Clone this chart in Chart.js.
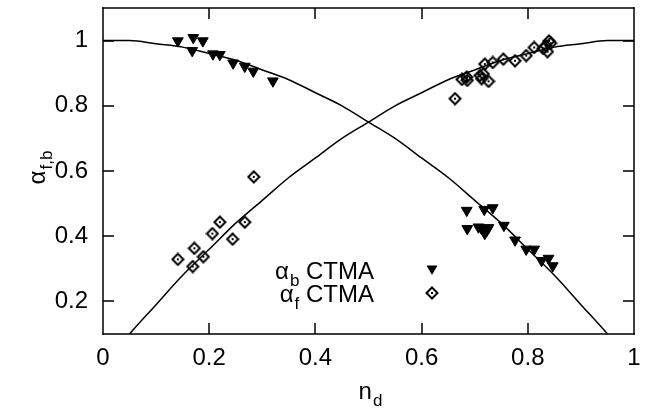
<!DOCTYPE html>
<html>
<head>
<meta charset="utf-8">
<script src="https://cdn.jsdelivr.net/npm/chart.js@4/dist/chart.umd.min.js"></script>
<style>
  html, body { margin: 0; padding: 0; background: #fff; }
  #wrap { width: 647px; height: 413px; }
</style>
</head>
<body>
<div id="wrap"><canvas id="chart" width="647" height="413"></canvas></div>
<script>
// fitted curves, every 0.05
const curveX = [0, 0.05, 0.1, 0.15, 0.2, 0.25, 0.3, 0.35, 0.4, 0.45, 0.5, 0.55, 0.6, 0.65, 0.7, 0.75, 0.8, 0.85, 0.9, 0.95, 1];
const curveB = [1.00, 1.00, 0.99, 0.98, 0.96, 0.94, 0.91, 0.88, 0.84, 0.80, 0.75, 0.70, 0.64, 0.58, 0.51, 0.44, 0.36, 0.28, 0.19, 0.10, 0.00];
const curveF = [0.00, 0.10, 0.19, 0.28, 0.36, 0.44, 0.51, 0.58, 0.64, 0.70, 0.75, 0.80, 0.84, 0.88, 0.91, 0.94, 0.96, 0.98, 0.99, 1.00, 1.00];

// alpha_b CTMA (filled triangles)
const bX = [0.141, 0.170, 0.188, 0.168, 0.207, 0.220, 0.245, 0.267, 0.283, 0.320,
            0.685, 0.718, 0.734, 0.686, 0.707, 0.713, 0.723, 0.719, 0.726, 0.755,
            0.776, 0.797, 0.812, 0.826, 0.839, 0.847];
const bY = [0.999, 1.009, 0.999, 0.969, 0.959, 0.957, 0.931, 0.921, 0.906, 0.876,
            0.479, 0.482, 0.487, 0.423, 0.428, 0.423, 0.418, 0.408, 0.426, 0.433,
            0.388, 0.360, 0.360, 0.325, 0.332, 0.309];

// alpha_f CTMA (open diamonds)
const fX = [0.284, 0.220, 0.206, 0.267, 0.244, 0.172, 0.189, 0.141, 0.169,
            0.663, 0.676, 0.685, 0.686, 0.710, 0.713, 0.716, 0.726, 0.719, 0.734,
            0.754, 0.776, 0.797, 0.812, 0.829, 0.837, 0.840, 0.843, 0.834];
const fY = [0.582, 0.443, 0.408, 0.443, 0.391, 0.363, 0.337, 0.329, 0.307,
            0.822, 0.881, 0.888, 0.878, 0.893, 0.883, 0.898, 0.875, 0.928, 0.933,
            0.943, 0.938, 0.954, 0.979, 0.976, 0.966, 0.999, 0.992, 0.984];

const xTicks = [0, 0.2, 0.4, 0.6, 0.8, 1];
const yTicks = [0.2, 0.4, 0.6, 0.8, 1];

const FONT = '"Liberation Sans", Arial, sans-serif';
const FS = 24;

// open diamond with a centre dot
const diamond = document.createElement('canvas');
diamond.width = 14; diamond.height = 14;
(function () {
    const g = diamond.getContext('2d');
    g.strokeStyle = '#000';
    g.lineWidth = 2;
    g.beginPath();
    g.moveTo(7, 1.5); g.lineTo(12.5, 7); g.lineTo(7, 12.5); g.lineTo(1.5, 7); g.closePath();
    g.stroke();
    g.fillStyle = '#000';
    g.fillRect(6, 6, 2, 2);
})();

const pts = (xs, ys) => xs.map((x, i) => ({ x: x, y: ys[i] }));

function subText(ctx, x, y, main, sub, size, align) {
    const ss = Math.round(size * 0.72);
    ctx.font = size + 'px ' + FONT;
    const w1 = ctx.measureText(main).width;
    ctx.font = ss + 'px ' + FONT;
    const w2 = ctx.measureText(sub).width;
    let start = x;
    if (align === 'center') start = x - (w1 + w2) / 2;
    if (align === 'right') start = x - (w1 + w2);
    ctx.textAlign = 'left';
    ctx.textBaseline = 'alphabetic';
    ctx.font = size + 'px ' + FONT;
    ctx.fillText(main, start, y);
    ctx.font = ss + 'px ' + FONT;
    ctx.fillText(sub, start + w1 + 1, y + size * 0.28);
    return start + w1 + w2 + 1;
}

// frame + inward ticks on all four sides (gnuplot look), drawn with fills
const framePlugin = {
    id: 'frameTicks',
    afterDraw(chart) {
        const ctx = chart.ctx;
        const xs = chart.scales.x, ys = chart.scales.y;
        const L = Math.round(xs.left), R = Math.round(xs.right), T = Math.round(ys.top), B = Math.round(ys.bottom);
        const lw = 1.5, tl = 11;
        ctx.save();
        ctx.fillStyle = '#000';
        ctx.fillRect(L - 0.75, T - 0.75, R - L + 1.5, lw);
        ctx.fillRect(L - 0.75, B - 0.75, R - L + 1.5, lw);
        ctx.fillRect(L - 0.75, T - 0.75, lw, B - T + 1.5);
        ctx.fillRect(R - 0.75, T - 0.75, lw, B - T + 1.5);
        yTicks.forEach(v => {
            const p = Math.round(ys.getPixelForValue(v));
            ctx.fillRect(L, p - 0.75, tl, lw);
            ctx.fillRect(R - tl, p - 0.75, tl, lw);
        });
        xTicks.slice(1, -1).forEach(v => {
            const p = Math.round(xs.getPixelForValue(v));
            ctx.fillRect(p - 0.75, B - tl, lw, tl);
            ctx.fillRect(p - 0.75, T, lw, tl);
        });

        // axis titles
        subText(ctx, 370, 399, 'n', 'd', FS, 'center');
        ctx.save();
        ctx.translate(45, 168);
        ctx.rotate(-Math.PI / 2);
        subText(ctx, 0, 0, 'α', 'f,b', FS, 'center');
        ctx.restore();

        // legend: text right-aligned, marker to the right
        const rows = [
            { y: 279, sub: 'b' },
            { y: 302, sub: 'f' }
        ];
        ctx.font = FS + 'px ' + FONT;
        const wC = ctx.measureText(' CTMA').width;
        rows.forEach(r => {
            const end = subText(ctx, 373 - wC, r.y, 'α', r.sub, FS, 'right');
            ctx.font = FS + 'px ' + FONT;
            ctx.fillText(' CTMA', end, r.y);
        });
        ctx.beginPath();
        ctx.moveTo(426.5, 265.5); ctx.lineTo(437.5, 265.5); ctx.lineTo(432, 275); ctx.closePath();
        ctx.fill();
        ctx.drawImage(diamond, 432 - 7, 293 - 7);
        ctx.restore();
    }
};

const noPad = s => { s.paddingTop = 0; s.paddingBottom = 0; s.paddingLeft = 0; s.paddingRight = 0; };

new Chart(document.getElementById('chart'), {
    type: 'scatter',
    data: {
        datasets: [
            {
                type: 'line', data: pts(curveX, curveB), borderColor: '#000', borderWidth: 1.5,
                pointRadius: 0, cubicInterpolationMode: 'monotone', fill: false
            },
            {
                type: 'line', data: pts(curveX, curveF), borderColor: '#000', borderWidth: 1.5,
                pointRadius: 0, cubicInterpolationMode: 'monotone', fill: false
            },
            {
                label: 'αb CTMA', data: pts(bX, bY), pointStyle: 'triangle', rotation: 180,
                pointRadius: 6.2, backgroundColor: '#000', borderColor: '#000', borderWidth: 1
            },
            {
                label: 'αf CTMA', data: pts(fX, fY), pointStyle: diamond, pointRadius: 7
            }
        ]
    },
    options: {
        responsive: false,
        animation: false,
        layout: { padding: { top: 5, right: 13, left: 0, bottom: 0 } },
        plugins: { legend: { display: false }, tooltip: { enabled: false } },
        scales: {
            x: {
                type: 'linear', min: 0, max: 1,
                grid: { display: false, drawTicks: false },
                border: { display: false },
                afterBuildTicks: s => { s.ticks = xTicks.map(v => ({ value: v })); },
                afterFit: s => { s.height = 79; noPad(s); },
                ticks: { color: '#000', padding: 10, font: { family: FONT, size: FS }, maxRotation: 0,
                         callback: v => String(v) }
            },
            y: {
                type: 'linear', min: 0.1, max: 1.1,
                grid: { display: false, drawTicks: false },
                border: { display: false },
                afterBuildTicks: s => { s.ticks = yTicks.map(v => ({ value: v })); },
                afterFit: s => { s.width = 103; noPad(s); },
                ticks: { color: '#000', padding: 15, font: { family: FONT, size: FS },
                         callback: v => String(v) }
            }
        }
    },
    plugins: [framePlugin]
});
</script>
</body>
</html>
